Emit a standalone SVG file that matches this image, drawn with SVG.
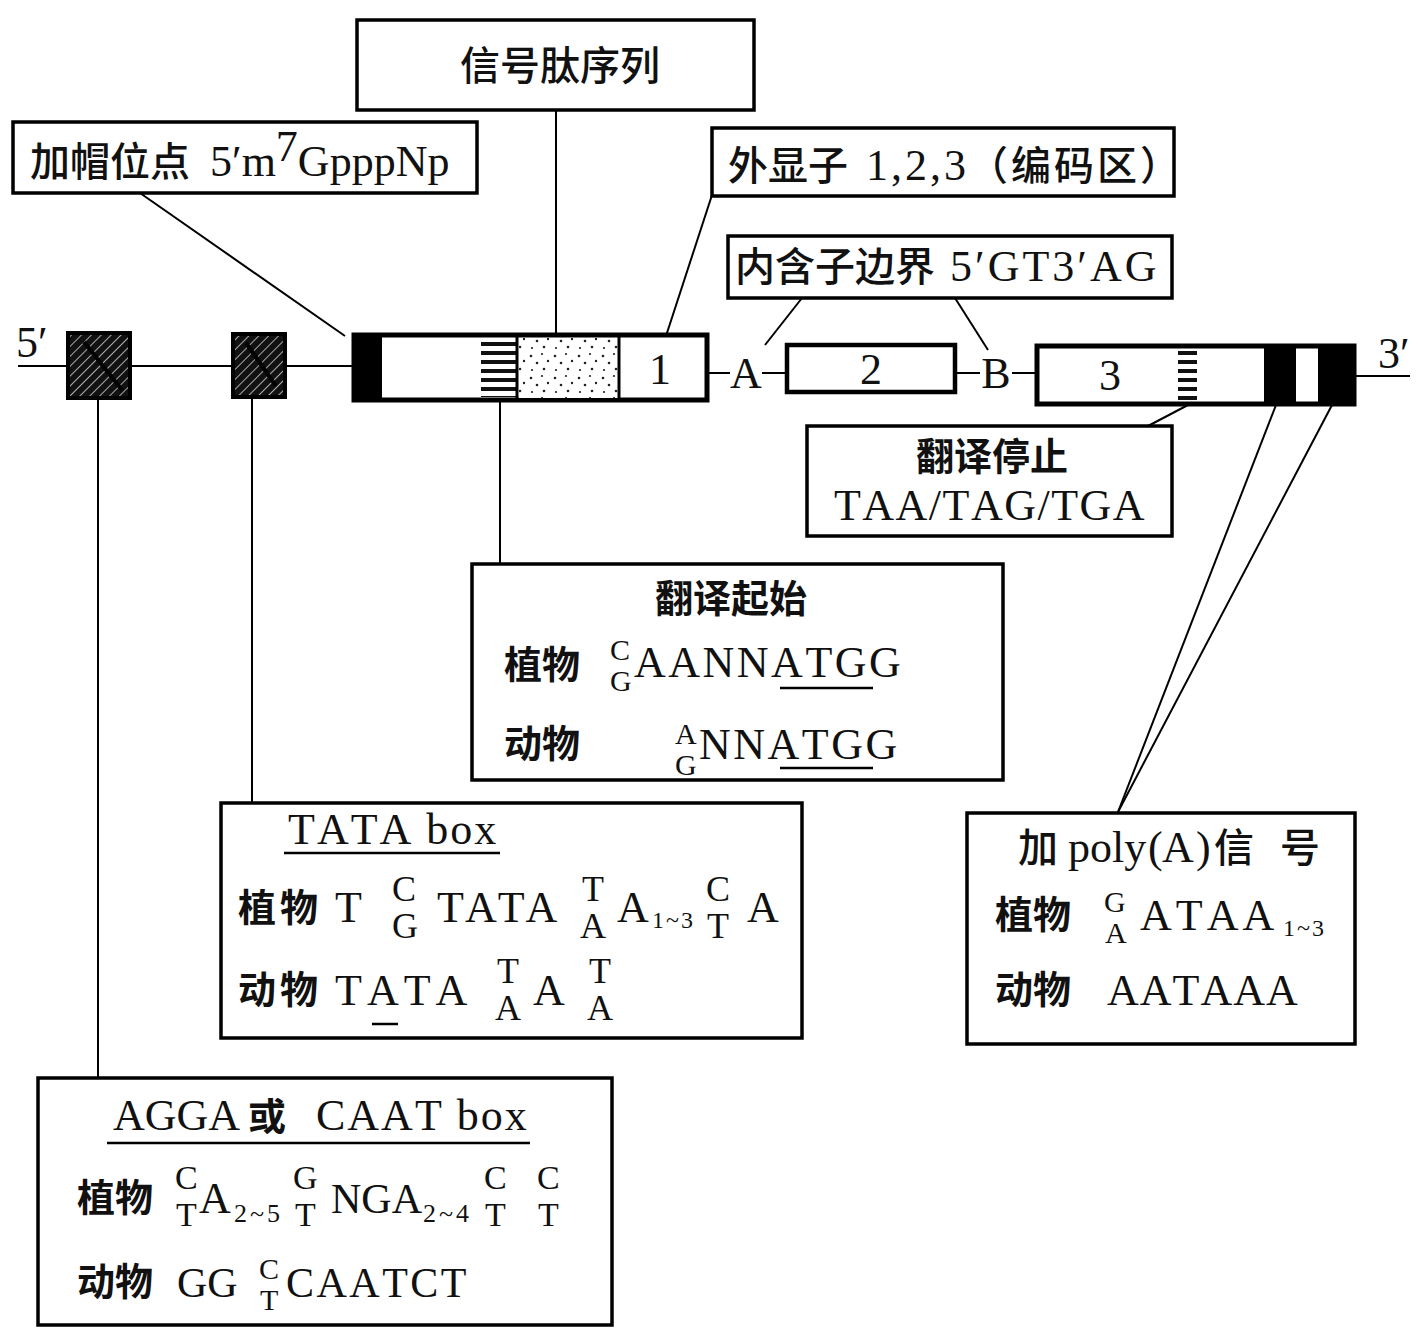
<svg xmlns="http://www.w3.org/2000/svg" width="1418" height="1331" viewBox="0 0 1418 1331">
<defs>
<style>
.bx{fill:#fff;stroke:#000;stroke-width:3.5}
.ln{stroke:#000;stroke-width:2;fill:none}
.cj{font-family:"Noto Sans CJK SC","Noto Sans",sans-serif;font-weight:500;font-size:40px;fill:#111}
.cjb{font-family:"Noto Sans CJK SC","Noto Sans",sans-serif;font-weight:700;font-size:38px;fill:#111}
.se{font-family:"Liberation Serif","Times New Roman",serif;font-size:44px;fill:#111;font-kerning:none}
.ul{stroke:#000;stroke-width:2.5}
</style>
<pattern id="hatch" width="7" height="7" patternUnits="userSpaceOnUse" patternTransform="rotate(45)">
<rect width="7" height="7" fill="#111"/>
<line x1="0" y1="0" x2="0" y2="7" stroke="#aaa" stroke-width="2"/>
</pattern>
<pattern id="stripes" width="10" height="9" patternUnits="userSpaceOnUse">
<rect width="10" height="9" fill="#fff"/>
<rect y="0" width="10" height="4" fill="#111"/>
</pattern>
<pattern id="dots" width="24" height="22" patternUnits="userSpaceOnUse">
<rect width="24" height="22" fill="#fff"/>
<circle cx="3" cy="4" r="1.3" fill="#222"/>
<circle cx="14" cy="2" r="1.1" fill="#222"/>
<circle cx="9" cy="11" r="1.3" fill="#222"/>
<circle cx="20" cy="9" r="1.2" fill="#222"/>
<circle cx="4" cy="18" r="1.1" fill="#222"/>
<circle cx="16" cy="17" r="1.3" fill="#222"/>
</pattern>
</defs>
<rect width="1418" height="1331" fill="#fff"/>

<g id="connectors">
<line class="ln" x1="18" y1="366" x2="355" y2="366"/>
<line class="ln" x1="707" y1="373" x2="730" y2="373"/>
<line class="ln" x1="762" y1="373" x2="786" y2="373"/>
<line class="ln" x1="955" y1="373" x2="980" y2="373"/>
<line class="ln" x1="1012" y1="373" x2="1036" y2="373"/>
<line class="ln" x1="1355" y1="376" x2="1410" y2="376"/>
<line class="ln" x1="556" y1="110" x2="556" y2="335"/>
<line class="ln" x1="140" y1="193" x2="345" y2="336"/>
<line class="ln" x1="712" y1="195" x2="666" y2="336"/>
<line class="ln" x1="802" y1="298" x2="765" y2="345"/>
<line class="ln" x1="955" y1="298" x2="988" y2="350"/>
<line class="ln" x1="1188" y1="405" x2="1148" y2="426"/>
<line class="ln" x1="500" y1="400" x2="500" y2="563"/>
<line class="ln" x1="252" y1="397" x2="252" y2="803"/>
<line class="ln" x1="98" y1="398" x2="98" y2="1078"/>
<line class="ln" x1="1276" y1="405" x2="1118" y2="812"/>
<line class="ln" x1="1332" y1="405" x2="1118" y2="812"/>
</g>

<g id="gene">
<text class="se" x="16" y="357" font-size="36">5′</text>
<text class="se" x="1378" y="368" font-size="36">3′</text>
<g id="cat-box">
<rect x="68" y="333" width="62" height="65" fill="url(#hatch)" stroke="#000" stroke-width="4"/>
<line x1="84" y1="342" x2="122" y2="390" stroke="#000" stroke-width="4"/>
</g>
<g id="tata-site">
<rect x="233" y="334" width="52" height="63" fill="url(#hatch)" stroke="#000" stroke-width="4"/>
<line x1="246" y1="343" x2="276" y2="386" stroke="#000" stroke-width="4"/>
</g>
<g id="exon1">
<rect x="354" y="335" width="353" height="65" fill="#fff" stroke="#000" stroke-width="5"/>
<rect x="352" y="333" width="30" height="69" fill="#000"/>
<rect x="481" y="339" width="36" height="58" fill="url(#stripes)"/>
<line x1="517" y1="336" x2="517" y2="399" stroke="#000" stroke-width="3"/>
<rect x="519" y="338" width="99" height="60" fill="url(#dots)"/>
<line x1="619" y1="336" x2="619" y2="399" stroke="#000" stroke-width="3"/>
<text class="se" x="660" y="384" text-anchor="middle" font-size="40">1</text>
</g>
<text class="se" x="746" y="388" text-anchor="middle" font-size="40">A</text>
<g id="exon2">
<rect x="787" y="345" width="168" height="47" fill="#fff" stroke="#000" stroke-width="4.5"/>
<text class="se" x="871" y="384" text-anchor="middle" font-size="40">2</text>
</g>
<text class="se" x="996" y="388" text-anchor="middle" font-size="40">B</text>
<g id="exon3">
<rect x="1037" y="346" width="317" height="58" fill="#fff" stroke="#000" stroke-width="5"/>
<rect x="1178" y="349" width="19" height="52" fill="url(#stripes)"/>
<rect x="1264" y="344" width="32" height="62" fill="#000"/>
<rect x="1318" y="344" width="38" height="62" fill="#000"/>
<text class="se" x="1110" y="390" text-anchor="middle" font-size="40">3</text>
</g>
</g>

<g id="signal-peptide">
<rect class="bx" x="357" y="20" width="397" height="90"/>
<text class="cj" x="560" y="80" text-anchor="middle" font-size="43">信号肽序列</text>
</g>

<g id="cap-site">
<rect class="bx" x="13" y="122" width="464" height="71"/>
<text y="176"><tspan class="cj" x="30" font-size="42">加帽位点</tspan><tspan class="se" x="210">5′m</tspan><tspan class="se" font-size="20" dy="-15">7</tspan><tspan class="se" dy="15">GpppNp</tspan></text>
</g>

<g id="exons-label">
<rect class="bx" x="712" y="128" width="462" height="68"/>
<text y="180"><tspan class="cj" x="728">外显子</tspan><tspan class="se" x="866" letter-spacing="3">1,2,3</tspan><tspan class="cj" x="968" font-size="38" letter-spacing="3">（编码区）</tspan></text>
</g>

<g id="intron-border">
<rect class="bx" x="728" y="236" width="444" height="62"/>
<text y="281"><tspan class="cj" x="735">内含子边界</tspan><tspan class="se" x="950" letter-spacing="3">5′GT3′AG</tspan></text>
</g>

<g id="stop">
<rect class="bx" x="807" y="426" width="365" height="110"/>
<text class="cjb" x="992" y="470" text-anchor="middle" font-size="42">翻译停止</text>
<text class="se" x="990" y="520" text-anchor="middle" font-size="46" letter-spacing="1.5">TAA/TAG/TGA</text>
</g>

<g id="start">
<rect class="bx" x="472" y="564" width="531" height="216"/>
<text class="cjb" x="731" y="612" text-anchor="middle" font-size="44">翻译起始</text>
<text class="cjb" x="504" y="678">植物</text>
<text class="se"><tspan x="610" y="660" font-size="30">C</tspan><tspan x="610" y="691" font-size="30">G</tspan><tspan x="634" y="677" letter-spacing="2.5">AANNATGG</tspan></text>
<line class="ul" x1="780" y1="688" x2="873" y2="688"/>
<text class="cjb" x="504" y="757">动物</text>
<text class="se"><tspan x="675" y="744" font-size="30">A</tspan><tspan x="675" y="775" font-size="30">G</tspan><tspan x="699" y="759" letter-spacing="2.5">NNATGG</tspan></text>
<line class="ul" x1="780" y1="768" x2="873" y2="768"/>
</g>

<g id="tata-box">
<rect class="bx" x="221" y="803" width="581" height="235"/>
<text class="se" x="288" y="844" letter-spacing="2">TATA box</text>
<line class="ul" x1="284" y1="853" x2="500" y2="853"/>
<text class="cjb" x="238" y="921" font-size="40" letter-spacing="4">植物</text>
<text class="se"><tspan x="335" y="922">T</tspan><tspan x="392" y="901" font-size="36">C</tspan><tspan x="392" y="938" font-size="36">G</tspan><tspan x="437" y="922" letter-spacing="1">TATA</tspan><tspan x="582" y="901" font-size="36">T</tspan><tspan x="580" y="938" font-size="36">A</tspan><tspan x="617" y="922">A</tspan><tspan x="652" y="928" font-size="24" letter-spacing="2">1~3</tspan><tspan x="706" y="901" font-size="36">C</tspan><tspan x="707" y="938" font-size="36">T</tspan><tspan x="747" y="922">A</tspan></text>
<text class="cjb" x="238" y="1003" font-size="40" letter-spacing="4">动物</text>
<text class="se"><tspan x="335" y="1005" letter-spacing="5">TATA</tspan><tspan x="497" y="983" font-size="36">T</tspan><tspan x="495" y="1020" font-size="36">A</tspan><tspan x="533" y="1005">A</tspan><tspan x="589" y="983" font-size="36">T</tspan><tspan x="587" y="1020" font-size="36">A</tspan></text>
<line class="ul" x1="372" y1="1024" x2="398" y2="1024"/>
</g>

<g id="caat-box">
<rect class="bx" x="38" y="1078" width="574" height="247"/>
<text y="1130"><tspan class="se" x="113" font-size="42">AGGA</tspan><tspan class="cjb" x="248" font-size="42">或</tspan><tspan class="se" x="316" font-size="42" letter-spacing="2">CAAT box</tspan></text>
<line class="ul" x1="107" y1="1143" x2="530" y2="1143"/>
<text class="cjb" x="77" y="1211">植物</text>
<text class="se"><tspan x="175" y="1189" font-size="34">C</tspan><tspan x="176" y="1226" font-size="34">T</tspan><tspan x="199" y="1213">A</tspan><tspan x="234" y="1222" font-size="26" letter-spacing="3">2~5</tspan><tspan x="293" y="1189" font-size="34">G</tspan><tspan x="295" y="1226" font-size="34">T</tspan><tspan x="331" y="1213" font-size="42">NGA</tspan><tspan x="423" y="1222" font-size="26" letter-spacing="3">2~4</tspan><tspan x="484" y="1189" font-size="34">C</tspan><tspan x="485" y="1226" font-size="34">T</tspan><tspan x="537" y="1189" font-size="34">C</tspan><tspan x="538" y="1226" font-size="34">T</tspan></text>
<text class="cjb" x="77" y="1295">动物</text>
<text class="se"><tspan x="177" y="1297" font-size="42">GG</tspan><tspan x="259" y="1279" font-size="30">C</tspan><tspan x="260" y="1310" font-size="30">T</tspan><tspan x="286" y="1297" font-size="42" letter-spacing="2.5">CAATCT</tspan></text>
</g>

<g id="polya">
<rect class="bx" x="967" y="813" width="388" height="231"/>
<text y="862"><tspan class="cj" x="1018" font-size="38">加</tspan><tspan class="se" x="1068" font-size="42">poly</tspan><tspan class="se" x="1148" font-size="38">(</tspan><tspan class="se" x="1162" font-size="42">A</tspan><tspan class="se" x="1196" font-size="38">)</tspan><tspan class="cj" x="1214" font-size="40" letter-spacing="26">信号</tspan></text>
<text class="cjb" x="995" y="928">植物</text>
<text class="se"><tspan x="1104" y="912" font-size="30">G</tspan><tspan x="1105" y="943" font-size="30">A</tspan><tspan x="1140" y="930" letter-spacing="4">ATAA</tspan><tspan x="1283" y="936" font-size="24" letter-spacing="2">1~3</tspan></text>
<text class="cjb" x="995" y="1003">动物</text>
<text class="se" x="1107" y="1005" letter-spacing="1">AATAAA</text>
</g>
</svg>
